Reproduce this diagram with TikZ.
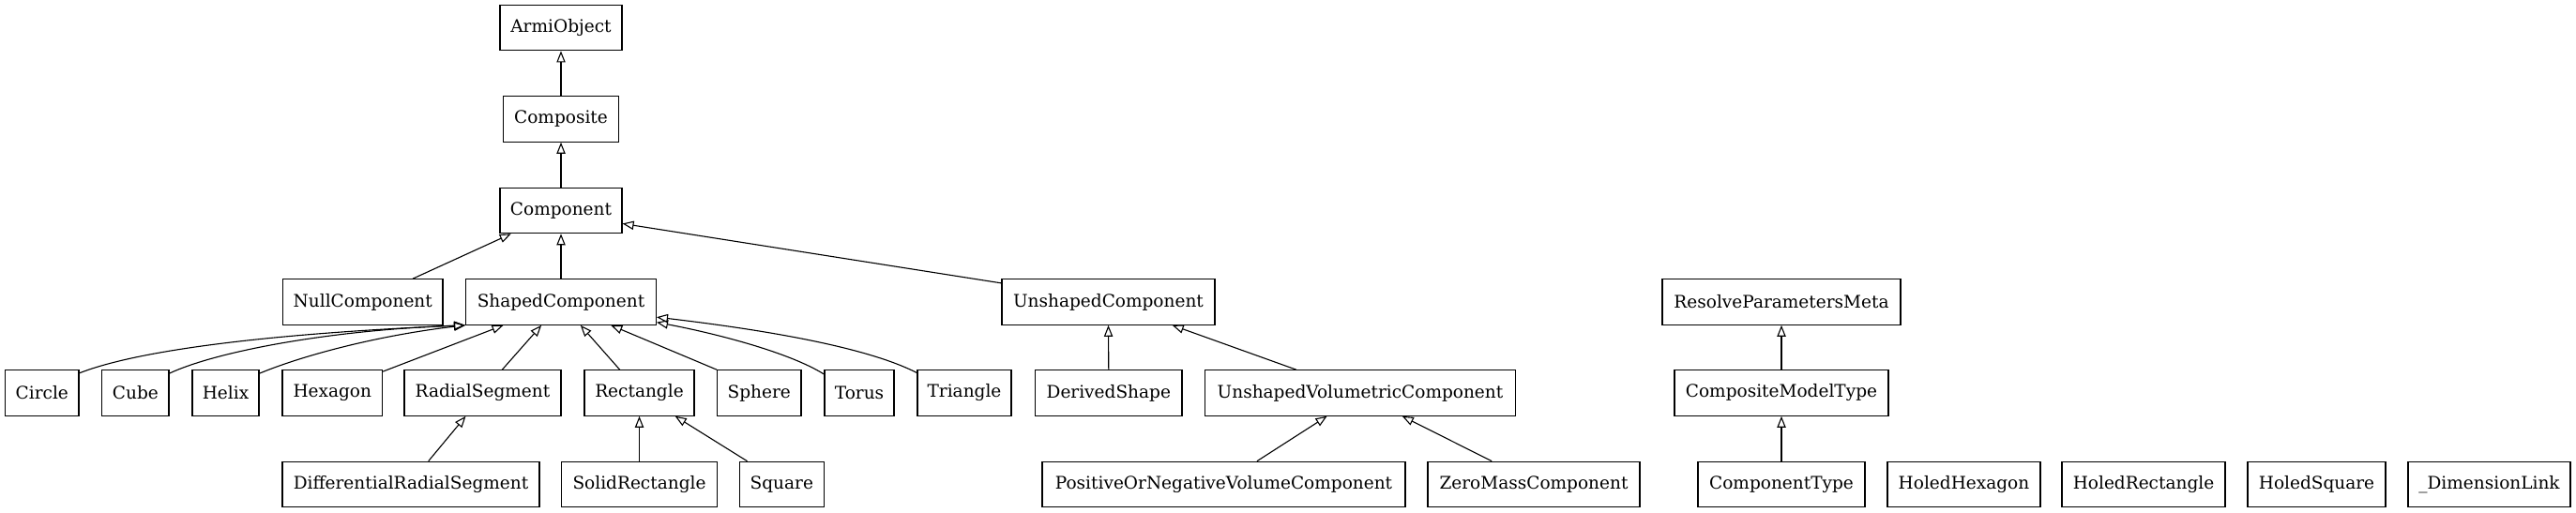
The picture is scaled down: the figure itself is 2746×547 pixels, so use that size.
\documentclass[tikz,border=0pt]{standalone}
\usepackage{fontspec}
\setmainfont{DejaVu Serif}
\usetikzlibrary{arrows.meta}

\begin{document}
\begin{tikzpicture}[
  x=0.54pt, y=-0.54pt,
  cls/.style={rectangle,draw,line width=0.6pt,minimum width=#1*0.54pt,minimum height=26.2pt,inner sep=1pt},
  inh/.style={draw,line width=0.6pt,-{Triangle[open,length=6.5pt,width=5pt]}},
  font=\fontsize{10}{12}\selectfont
]
\useasboundingbox (0,0) rectangle (2746,547);

% Draw class boxes
\node[cls=130] (armi) at (598,29.6) {ArmiObject};
\node[cls=123] (composite) at (598,127) {Composite};
\node[cls=130] (component) at (598,224.5) {Component};

\node[cls=170.4] (nullc) at (386.8,322) {NullComponent};
\node[cls=202.8] (shaped) at (598,322) {ShapedComponent};
\node[cls=227] (unshaped) at (1181.5,322) {UnshapedComponent};
\node[cls=254] (rpm) at (1899,322) {ResolveParametersMeta};

\foreach \x/\w/\n/\t in {44.8/78.4/circle/Circle, 144.4/71.3/cube/Cube,
    240.5/71/helix/Helix, 354.3/106.6/hexagon/Hexagon,
    514.5/167/radial/RadialSegment, 681.5/117/rectangle/Rectangle,
    809.3/89.4/sphere/Sphere, 916/74/torus/Torus, 1028/100/triangle/Triangle,
    1181.8/156.4/derived/DerivedShape, 1450/331.4/uvc/UnshapedVolumetricComponent,
    1899/228/cmt/CompositeModelType}
  \node[cls=\w] (\n) at (\x,419) {\t};

\foreach \x/\w/\n/\t in {438/274/drs/DifferentialRadialSegment,
    681.5/166/solidrect/SolidRectangle, 833.3/89.5/square/Square,
    1304.5/387/ponvc/PositiveOrNegativeVolumeComponent,
    1635/226/zmc/ZeroMassComponent, 1899/178/comptype/ComponentType,
    2093.5/163/holedhex/HoledHexagon, 2285/174/holedrect/HoledRectangle,
    2469.5/147/holedsq/HoledSquare, 2653.5/173/dimlink/\_DimensionLink}
  \node[cls=\w] (\n) at (\x,516.5) {\t};

% Inheritance arrows
\draw[inh] (composite.north) -- (armi.south);
\draw[inh] (component.north) -- (composite.south);
\draw[inh] (nullc.25) -- (component.205);
\draw[inh] (shaped.north) -- (component.south);
\draw[inh] (unshaped.170) -- (component.-12);

\draw[inh] (circle.28) .. controls (150,372) and (300,355) .. (shaped.south west);
\draw[inh] (cube.30) .. controls (230,375) and (350,352) .. (shaped.south west);
\draw[inh] (helix.30) .. controls (320,380) and (400,358) .. (shaped.south west);
\draw[inh] (hexagon.23) -- (shaped.202);
\draw[inh] (radial.50) -- (shaped.230);
\draw[inh] (rectangle.130) -- (shaped.310);
\draw[inh] (sphere.north west) -- (shaped.335);
\draw[inh] (torus.152) .. controls (840,375) and (760,355) .. (shaped.-12);
\draw[inh] (triangle.157) .. controls (920,368) and (800,350) .. (shaped.-9);

\draw[inh] (drs.53) -- (radial.234);
\draw[inh] (solidrect.north) -- (rectangle.south);
\draw[inh] (square.146) -- (rectangle.327);

\draw[inh] (derived.north) -- (unshaped.south);
\draw[inh] (uvc.160) -- (unshaped.340);
\draw[inh] (ponvc.35) -- (uvc.215);
\draw[inh] (zmc.151) -- (uvc.331);

\draw[inh] (cmt.north) -- (rpm.south);
\draw[inh] (comptype.north) -- (cmt.south);

\end{tikzpicture}
\end{document}
